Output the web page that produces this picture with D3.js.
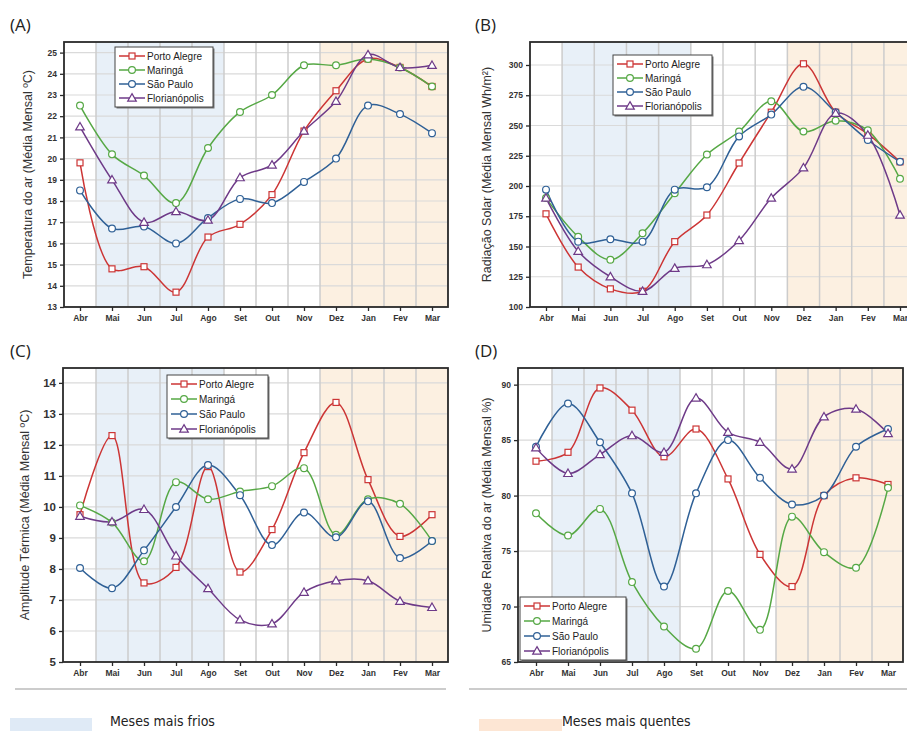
<!DOCTYPE html>
<html>
<head>
<meta charset="utf-8">
<script src="https://cdn.jsdelivr.net/npm/d3@7"></script>
<style>
  body { margin: 0; background: #fff; }
  svg { display: block; font-family: "Liberation Sans", Arial, sans-serif; }
</style>
</head>
<body>
<svg id="chart" width="907" height="731"></svg>
<script>
// months and city names
const months = ["Abr", "Mai", "Jun", "Jul", "Ago", "Set", "Out", "Nov", "Dez", "Jan", "Fev", "Mar"];
const cities = ["Porto Alegre", "Maringá", "São Paulo", "Florianópolis"];
const coldMonths = ["Mai", "Jun", "Jul", "Ago"];
const hotMonths = ["Dez", "Jan", "Fev", "Mar"];

// (A) temperatura do ar
const tempPortoAlegre = [19.8, 14.8, 14.9, 13.7, 16.3, 16.9, 18.3, 21.3, 23.2, 24.7, 24.3, 23.4];
const tempMaringa = [22.5, 20.2, 19.2, 17.9, 20.5, 22.2, 23.0, 24.4, 24.4, 24.7, 24.3, 23.4];
const tempSaoPaulo = [18.5, 16.7, 16.8, 16.0, 17.2, 18.1, 17.9, 18.9, 20.0, 22.5, 22.1, 21.2];
const tempFloripa = [21.5, 19.0, 17.0, 17.5, 17.1, 19.1, 19.7, 21.3, 22.7, 24.9, 24.3, 24.4];
const tempTicks = [13, 14, 15, 16, 17, 18, 19, 20, 21, 22, 23, 24, 25];

// (B) radiação solar
const radPortoAlegre = [177, 133, 115, 113, 154, 176, 219, 261, 301, 261, 243, 220];
const radMaringa = [190, 158, 139, 161, 194, 226, 245, 270, 245, 254, 246, 206];
const radSaoPaulo = [197, 154, 156, 154, 197, 199, 241, 259, 282, 261, 238, 220];
const radFloripa = [190, 146, 125, 113, 132, 135, 155, 190, 215, 260, 242, 176];
const radTicks = [100, 125, 150, 175, 200, 225, 250, 275, 300];

// (C) amplitude térmica
const ampPortoAlegre = [9.75, 12.3, 7.55, 8.05, 11.3, 7.9, 9.27, 11.75, 13.37, 10.88, 9.05, 9.75];
const ampMaringa = [10.05, 9.5, 8.25, 10.8, 10.25, 10.5, 10.67, 11.25, 9.1, 10.25, 10.1, 8.9];
const ampSaoPaulo = [8.03, 7.38, 8.6, 10.0, 11.35, 10.38, 8.77, 9.82, 9.02, 10.18, 8.35, 8.9];
const ampFloripa = [9.7, 9.52, 9.92, 8.42, 7.37, 6.36, 6.23, 7.25, 7.62, 7.62, 6.96, 6.76];
const ampTicks = [5, 6, 7, 8, 9, 10, 11, 12, 13, 14];

// (D) umidade relativa
const umPortoAlegre = [83.1, 83.9, 89.7, 87.7, 83.5, 86.0, 81.5, 74.7, 71.8, 80.0, 81.6, 81.0];
const umMaringa = [78.4, 76.4, 78.8, 72.2, 68.2, 66.2, 71.4, 67.9, 78.1, 74.9, 73.5, 80.7];
const umSaoPaulo = [84.4, 88.3, 84.8, 80.2, 71.8, 80.2, 85.0, 81.6, 79.2, 80.0, 84.4, 86.0];
const umFloripa = [84.3, 82.0, 83.7, 85.4, 83.9, 88.8, 85.7, 84.8, 82.4, 87.1, 87.8, 85.6];
const umTicks = [65, 70, 75, 80, 85, 90];

const colors = ["#cc3535", "#56a845", "#2f6096", "#6e3a88"];
const shapes = ["square", "circle", "circle", "triangle"];

const svg = d3.select("#chart");

function drawMarker(g, shape, cx, cy, color) {
  if (shape === "square") {
    g.append("rect").attr("x", cx - 3).attr("y", cy - 3).attr("width", 6).attr("height", 6)
      .attr("fill", "#fff").attr("stroke", color).attr("stroke-width", 1.2);
  } else if (shape === "circle") {
    g.append("circle").attr("cx", cx).attr("cy", cy).attr("r", 3.4)
      .attr("fill", "#fff").attr("stroke", color).attr("stroke-width", 1.2);
  } else {
    g.append("path").attr("d", d3.symbol(d3.symbolTriangle, 32)())
      .attr("transform", `translate(${cx},${cy + 0.6})`)
      .attr("fill", "#fff").attr("stroke", color).attr("stroke-width", 1.2);
  }
}

function drawPanel(p) {
  const g = svg.append("g");
  const x = d3.scalePoint().domain(months).range(p.xRange);
  const step = x.step();
  const y = d3.scaleLinear().domain(p.yDomain).range([p.bottom, p.top]);

  // clip for the plot area
  const clipId = "clip" + p.label;
  svg.append("clipPath").attr("id", clipId)
    .append("rect").attr("x", p.left).attr("y", p.top)
    .attr("width", p.right - p.left).attr("height", p.bottom - p.top);
  const plot = g.append("g").attr("clip-path", `url(#${clipId})`);

  // season shading
  plot.append("rect")
    .attr("x", x(coldMonths[0]) - step / 2).attr("y", p.top)
    .attr("width", step * coldMonths.length).attr("height", p.bottom - p.top)
    .attr("fill", "#e8f0f8");
  plot.append("rect")
    .attr("x", x(hotMonths[0]) - step / 2).attr("y", p.top)
    .attr("width", p.right - (x(hotMonths[0]) - step / 2)).attr("height", p.bottom - p.top)
    .attr("fill", "#fcf0e1");

  // grid
  plot.append("g").selectAll("line").data(p.ticks).join("line")
    .attr("x1", p.left).attr("x2", p.right)
    .attr("y1", d => y(d)).attr("y2", d => y(d))
    .attr("stroke", "#dadada").attr("stroke-width", 1.2);
  plot.append("g").selectAll("line").data(months.slice(1)).join("line")
    .attr("x1", d => x(d) - step / 2).attr("x2", d => x(d) - step / 2)
    .attr("y1", p.top).attr("y2", p.bottom)
    .attr("stroke", "#cccccc").attr("stroke-width", 1.5);
  plot.append("line")
    .attr("x1", x(months[11]) + step / 2).attr("x2", x(months[11]) + step / 2)
    .attr("y1", p.top).attr("y2", p.bottom)
    .attr("stroke", "#cccccc").attr("stroke-width", 1.5);

  // series
  const line = d3.line()
    .x((d, i) => x(months[i]))
    .y(d => y(d))
    .curve(d3.curveCatmullRom.alpha(0.5));
  p.series.forEach((s, k) => {
    plot.append("path").datum(s).attr("d", line)
      .attr("fill", "none").attr("stroke", colors[k]).attr("stroke-width", 1.5);
  });
  p.series.forEach((s, k) => {
    const mg = plot.append("g");
    s.forEach((v, i) => drawMarker(mg, shapes[k], x(months[i]), y(v), colors[k]));
  });

  // frame
  g.append("rect").attr("x", p.left).attr("y", p.top)
    .attr("width", p.right - p.left).attr("height", p.bottom - p.top)
    .attr("fill", "none").attr("stroke", "#2a2a2a").attr("stroke-width", 1.8);

  // y axis
  const ya = g.append("g").attr("transform", `translate(${p.left},0)`)
    .call(d3.axisLeft(y).tickValues(p.ticks).tickSize(4).tickPadding(3));
  ya.select(".domain").remove();
  ya.selectAll("line").attr("stroke", "#2a2a2a").attr("stroke-width", 1.3);
  ya.selectAll("text").attr("font-size", p.tickFont).attr("font-weight", "bold")
    .attr("fill", "#333").attr("font-family", "Liberation Sans, Arial, sans-serif");

  // x axis
  const xa = g.append("g").attr("transform", `translate(0,${p.bottom})`)
    .call(d3.axisBottom(x).tickSize(4).tickPadding(4));
  xa.select(".domain").remove();
  xa.selectAll("line").attr("stroke", "#2a2a2a").attr("stroke-width", 1.3);
  xa.selectAll("text").attr("font-size", 8.5).attr("font-weight", "bold")
    .attr("fill", "#333").attr("font-family", "Liberation Sans, Arial, sans-serif");

  // axis title
  g.append("text")
    .attr("transform", `translate(${p.titleX},${(p.top + p.bottom) / 2}) rotate(-90)`)
    .attr("text-anchor", "middle").attr("font-size", 12.5).attr("fill", "#333")
    .text(p.title);

  // panel label
  g.append("text").attr("x", p.labelX).attr("y", p.labelY)
    .attr("font-size", 17).attr("fill", "#222").attr("font-family", "Open Sans, sans-serif")
    .text(`(${p.label})`);

  // legend
  const L = p.legend;
  const lg = g.append("g");
  lg.append("rect").attr("x", L.x + 1.5).attr("y", L.y + 1.5).attr("width", L.w).attr("height", L.h)
    .attr("fill", "#777");
  lg.append("rect").attr("x", L.x).attr("y", L.y).attr("width", L.w).attr("height", L.h)
    .attr("fill", "#fff").attr("stroke", "#444").attr("stroke-width", 1);
  cities.forEach((c, k) => {
    const ry = L.y + 9 + k * L.rowH;
    lg.append("line").attr("x1", L.x + 4).attr("x2", L.x + 30).attr("y1", ry).attr("y2", ry)
      .attr("stroke", colors[k]).attr("stroke-width", 1.5);
    drawMarker(lg, shapes[k], L.x + 17, ry, colors[k]);
    lg.append("text").attr("x", L.x + 32).attr("y", ry + 3.5)
      .attr("font-size", 10).attr("fill", "#222").text(c);
  });
}

drawPanel({
  label: "A", left: 64, right: 448, top: 42, bottom: 307, xRange: [80, 432],
  yDomain: [13, 25.5], ticks: tempTicks, tickFont: 8.5,
  series: [tempPortoAlegre, tempMaringa, tempSaoPaulo, tempFloripa],
  title: "Temperatura do ar (Média Mensal ºC)", titleX: 32,
  labelX: 10, labelY: 31, legend: { x: 115, y: 47, w: 98, h: 60, rowH: 14 }
});
drawPanel({
  label: "B", left: 530, right: 918, top: 42, bottom: 307, xRange: [546, 900],
  yDomain: [100, 319], ticks: radTicks, tickFont: 8.5,
  series: [radPortoAlegre, radMaringa, radSaoPaulo, radFloripa],
  title: "Radiação Solar (Média  Mensal Wh/m²)", titleX: 491,
  labelX: 475, labelY: 31, legend: { x: 613, y: 55, w: 99, h: 60, rowH: 14 }
});
drawPanel({
  label: "C", left: 63, right: 448, top: 368, bottom: 662, xRange: [80, 432],
  yDomain: [5, 14.48], ticks: ampTicks, tickFont: 11.5,
  series: [ampPortoAlegre, ampMaringa, ampSaoPaulo, ampFloripa],
  title: "Amplitude Térmica (Média Mensal ºC)", titleX: 29,
  labelX: 10, labelY: 357, legend: { x: 167, y: 375, w: 101, h: 63, rowH: 15 }
});
drawPanel({
  label: "D", left: 518, right: 903, top: 368, bottom: 662, xRange: [536, 888],
  yDomain: [65, 91.5], ticks: umTicks, tickFont: 8.5,
  series: [umPortoAlegre, umMaringa, umSaoPaulo, umFloripa],
  title: "Umidade Relativa do ar (Média Mensal %)", titleX: 491,
  labelX: 475, labelY: 357, legend: { x: 520, y: 597, w: 106, h: 63, rowH: 15 }
});

// separators and season key
svg.append("line").attr("x1", 15).attr("x2", 446).attr("y1", 689).attr("y2", 689)
  .attr("stroke", "#999").attr("stroke-width", 1.2);
svg.append("line").attr("x1", 469).attr("x2", 907).attr("y1", 689).attr("y2", 689)
  .attr("stroke", "#999").attr("stroke-width", 1.2);
svg.append("rect").attr("x", 10).attr("y", 718).attr("width", 82).attr("height", 13).attr("fill", "#dfeaf6");
svg.append("rect").attr("x", 479).attr("y", 719).attr("width", 83).attr("height", 12).attr("fill", "#fde6d4");
svg.append("text").attr("x", 110).attr("y", 726).attr("font-size", 14)
  .attr("font-family", "Liberation Sans Narrow, DejaVu Sans Condensed, sans-serif")
  .attr("fill", "#222").text("Meses mais frios");
svg.append("text").attr("x", 562).attr("y", 726).attr("font-size", 14)
  .attr("font-family", "Liberation Sans Narrow, DejaVu Sans Condensed, sans-serif")
  .attr("fill", "#222").text("Meses mais quentes");
</script>
</body>
</html>
